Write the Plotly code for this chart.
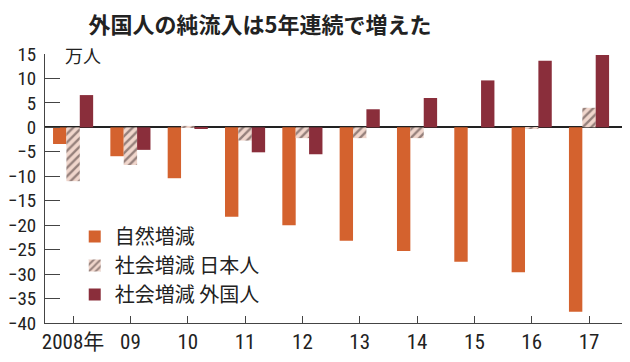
import plotly.graph_objects as go

years = ["2008年", "09", "10", "11", "12", "13", "14", "15", "16", "17"]
natural = [-3.4, -5.9, -10.4, -18.3, -20.0, -23.2, -25.3, -27.5, -29.6, -37.7]
social_japanese = [-11.0, -7.7, 0.3, -2.7, -2.2, -2.2, -2.2, 0.0, -0.3, 4.0]
social_foreign = [6.6, -4.6, -0.3, -5.1, -5.5, 3.7, 6.0, 9.6, 13.6, 14.8]
yticks = [15, 10, 5, 0, -5, -10, -15, -20, -25, -30, -35, -40]

FONT = "Liberation Sans Narrow, Roboto Condensed, Arial Narrow, Roboto, sans-serif"
JP = "Noto Sans CJK JP"

fig = go.Figure()
fig.add_trace(go.Bar(x=years, y=natural, name="自然増減",
                     marker=dict(color="#d4622e", line=dict(width=0))))
fig.add_trace(go.Bar(x=years, y=social_japanese, name="社会増減 日本人",
                     marker=dict(color="#f0d6cc", line=dict(width=0),
                                 pattern=dict(shape="/", fgcolor="#3a2a2a",
                                              bgcolor="#f0d6cc", size=6, solidity=0.4))))
fig.add_trace(go.Bar(x=years, y=social_foreign, name="社会増減 外国人",
                     marker=dict(color="#8a2e3b", line=dict(width=0))))

fig.update_layout(
    width=622, height=354,
    margin=dict(l=37, r=2, t=46, b=39, autoexpand=False),
    paper_bgcolor="white", plot_bgcolor="white",
    barmode="group", bargap=0.3, bargroupgap=0,
    showlegend=True,
    legend=dict(x=0.051, y=0.394, xanchor="left", yanchor="top",
                font=dict(family=JP, size=20, color="#222"),
                bgcolor="rgba(0,0,0,0)", tracegroupgap=0, itemwidth=30),
    title=dict(text="<b>外国人の純流入は5年連続で増えた</b>",
               x=252/622, xanchor="center", y=1-17/354, yanchor="middle",
               font=dict(family=JP, size=22, color="#222")),
    xaxis=dict(type="category", range=[-0.49, 9.68], showline=True,
               linecolor="#444", linewidth=1, ticks="inside", ticklen=7,
               tickcolor="#444", showgrid=False, zeroline=False, automargin=False,
               tickfont=dict(family=FONT + ", " + JP, size=21, color="#222")),
    yaxis=dict(range=[-40, 15], tickvals=yticks, showline=True,
               linecolor="#444", linewidth=1, ticks="inside", ticklen=15,
               tickcolor="#444", showgrid=False, zeroline=True, automargin=False,
               zerolinecolor="#222", zerolinewidth=1.5,
               ticklabelstandoff=4,
               tickfont=dict(family=FONT, size=19, color="#222")),
)

fig.add_annotation(text="万人", xref="paper", yref="paper",
                   x=(63-45)/583, y=1-(55-54)/269, xanchor="left", yanchor="middle",
                   showarrow=False, font=dict(family=JP, size=18, color="#222"))

fig.write_html("out.html")
